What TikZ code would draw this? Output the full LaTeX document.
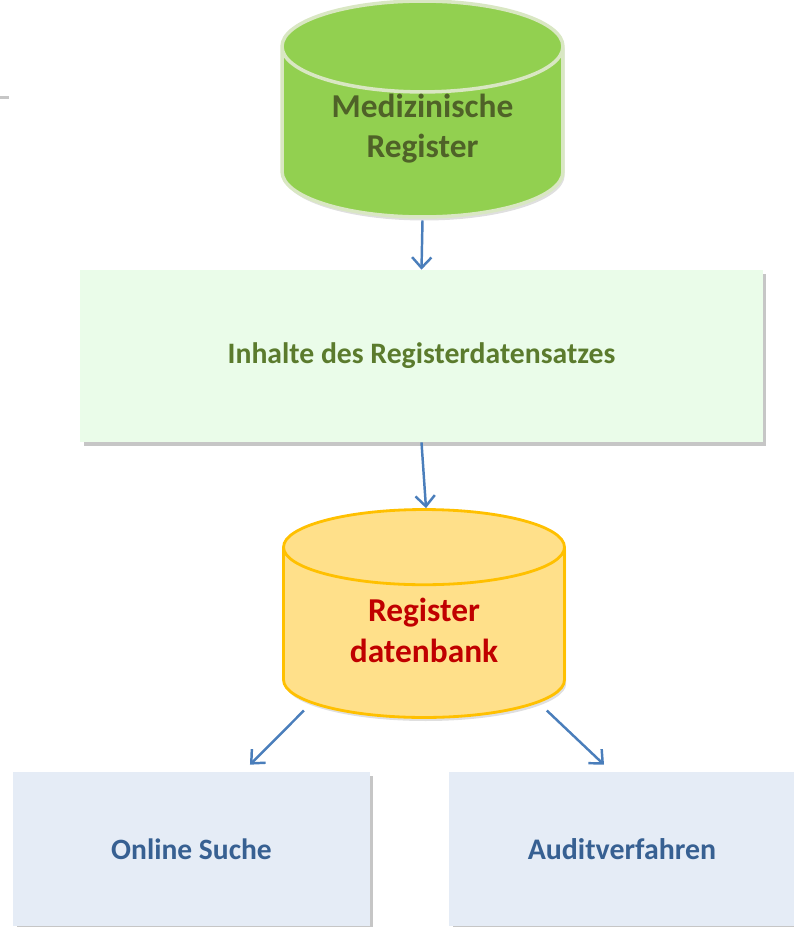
\documentclass[tikz,border=0pt]{standalone}
\usepackage{fontspec}
\setmainfont{Carlito}
\usepackage{xcolor}
\usepackage{tikz}
\usetikzlibrary{shapes.geometric,arrows.meta,shadows,positioning}

\definecolor{mrfill}{HTML}{92D050}
\definecolor{mrline}{HTML}{D9E7C3}
\definecolor{mrtext}{HTML}{4F6228}
\definecolor{inhfill}{HTML}{EAFCE9}
\definecolor{inhtext}{HTML}{5B7B2D}
\definecolor{dbfill}{HTML}{FFE08A}
\definecolor{dbline}{HTML}{FFC000}
\definecolor{dbtext}{HTML}{C00000}
\definecolor{outfill}{HTML}{E5ECF6}
\definecolor{outtext}{HTML}{376092}
\definecolor{flowblue}{HTML}{4A7EBB}

\tikzset{
  dbcyl/.style={cylinder, shape border rotate=90, aspect=0.47,
    anchor=shape center, inner ysep=0pt,
    minimum width=5.62cm, minimum height=4.16cm, align=center,
    font=\fontsize{19}{23}\selectfont\bfseries,
    drop shadow={shadow xshift=1pt, shadow yshift=-2pt, opacity=0.25}},
  infobox/.style={rectangle, align=center, inner sep=0pt,
    drop shadow={shadow xshift=2pt, shadow yshift=-2pt, opacity=0.45}},
  flow/.style={-{Straight Barb[length=6pt,width=11pt]}, line width=1.4pt, flowblue}
}

\begin{document}
\begin{tikzpicture}[x=0.02cm,y=-0.02cm]
    \useasboundingbox (0,0) rectangle (794,927);

    \draw[gray!45, line width=1.5pt] (0,97.5) -- (9,97.5);

    \node[dbcyl, fill=mrfill, draw=mrline, line width=2pt, text=mrtext,
      text depth=0.54cm]
      (mr) at (422.5,109) {Medizinische\\Register};

    \node[infobox, fill=inhfill, minimum width=13.66cm, minimum height=3.44cm,
      text=inhtext, font=\fontsize{16.9}{20}\selectfont\bfseries]
      (inh) at (421.5,356) {Inhalte des Registerdatensatzes};

    \node[dbcyl, fill=dbfill, draw=dbline, line width=1.6pt, text=dbtext,
      text depth=0.32cm]
      (db) at (424,613.5) {Register\\datenbank};

    \node[infobox, fill=outfill, minimum width=7.14cm, minimum height=3.08cm,
      text=outtext, font=\fontsize{16.8}{20}\selectfont\bfseries]
      (ls) at (191.5,849) {Online Suche};
    \node[infobox, fill=outfill, minimum width=6.92cm, minimum height=3.08cm,
      text=outtext, font=\fontsize{17}{20}\selectfont\bfseries]
      (rs) at (622,849) {Auditverfahren};

    \draw[flow] ([yshift=-1pt]mr.south) -- (inh.north);
    \draw[flow] (inh.south) -- ([xshift=0.04cm]db.north);
    \draw[flow] ([shift={(-0.2cm,-0.12cm)}]db.211) -- ([xshift=1.17cm,yshift=0.14cm]ls.north);
    \draw[flow] ([shift={(0.2cm,-0.14cm)}]db.-30) -- ([xshift=-0.36cm,yshift=0.14cm]rs.north);

  \end{tikzpicture}
\end{document}
